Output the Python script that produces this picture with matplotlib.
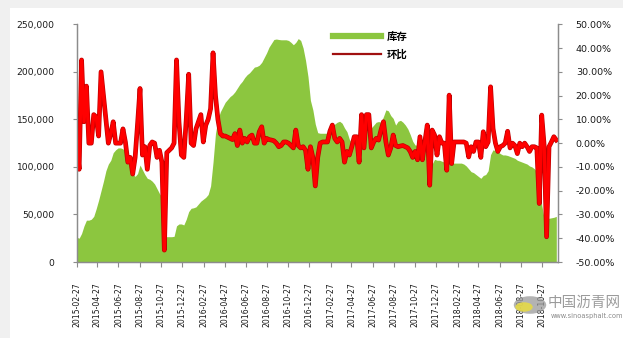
import matplotlib
matplotlib.use('Agg')
import matplotlib.pyplot as plt
import matplotlib.patheffects as pe
from matplotlib.lines import Line2D
from matplotlib.patches import Circle, Rectangle
from matplotlib.ticker import FuncFormatter
import pandas as pd

plt.rcParams['font.family'] = ['DejaVu Sans']

start_date = '2015-02-27'
n_weeks = 198

# weekly inventory (tonnes)
inventory = [
    26000, 25000, 30000, 38000, 44000, 44000, 45000, 48000, 56000, 65000,
    75000, 85000, 96000, 103000, 107000, 115000, 118000, 120000, 120000, 119000,
    115000, 109000, 103000, 93000, 90000, 93000, 102000, 97000, 92000, 88000,
    87000, 85000, 82000, 77000, 72000, 68000, 28000, 26600, 26600, 26600,
    27000, 38000, 40000, 40000, 39000, 45000, 53000, 56500, 57000, 58000,
    61000, 64000, 66000, 68000, 71000, 80000, 105000, 135000, 150000, 158000,
    163000, 168000, 171000, 174000, 176000, 179000, 183000, 187000, 190000, 194000,
    197000, 199000, 202000, 205000, 205600, 207000, 210000, 215000, 220000, 226000,
    230000, 234000, 234500, 234000, 233700, 233700, 233700, 233000, 231000, 228500,
    231000, 235000, 233000, 225000, 212000, 195000, 170000, 160000, 145000, 136000,
    135400, 135400, 135400, 135400, 139000, 144000, 145000, 147000, 148000, 146000,
    141000, 137000, 129000, 125000, 128000, 132000, 135000, 143000, 146000, 146000,
    144000, 141000, 144000, 147000, 147700, 147000, 153000, 160000, 159000, 154000,
    151000, 144000, 148000, 149000, 147000, 144000, 140000, 134000, 127000, 123000,
    123000, 122500, 121000, 117000, 112000, 106000, 103000, 108000, 107000, 107000,
    106000, 105000, 105000, 104000, 104000, 104000, 104000, 104000, 104000, 103000,
    101000, 98000, 95000, 94000, 92000, 90000, 88000, 91000, 92000, 96000,
    113000, 118000, 117000, 116000, 114000, 112600, 112600, 112000, 111000, 110000,
    109000, 107000, 106000, 105000, 104000, 103000, 101000, 100000, 98000, 95000,
    85000, 60000, 46000, 46000, 46000, 46500, 47000, 48000,
]

# week-on-week change (%)
change = [
    0.5, -11, 35, 9, 24, 0, 0, 12, 11, 3,
    30, 20, 10, 0, 4, 9, 0, 0, 0, 6,
    0.5, -8, -6, -13, -6, 8, 23, -5, -1.5, -11,
    -1, 0.5, 0, -6, -3, -8, -45, -4, -3, -2,
    0, 35, 9, -5, -6, 10, 29, 0, -1, 6,
    9, 12, 0.5, 7.5, 10, 14.5, 38, 20, 10, 4,
    3, 3, 2.5, 2, 1.5, 4, -1, 5.5, 0, 2,
    0.5, 2.7, 3.4, 0, 0, 4.8, 6.9, 0, 2, 1.5,
    1.3, 1, 0, -1.5, -1, 0.5, 0.5, 0, -1, -2,
    5.5, -1, -2, -1.5, -3, -11, -1.5, -6, -18, -6,
    0, 0.5, 0.5, 0.5, 5, 7.6, 2, 0.5, 2, 0.5,
    -8, -3.5, -5, -1.5, 2.7, 2.7, -8, 12, -2, 12,
    12, -2, 0.5, 2, 1.3, 5.5, 9, 0.5, -5, -2,
    3.4, -1, -1.5, -1.2, -1, -1.5, -2, -3.5, -6, -3.5,
    -7, 2.7, -7, 0.5, 7.6, -17.7, 5.5, 3.4, -5, 2.7,
    0, 0, -11.4, 20.2, -8.6, 0.5, 0.5, 0.5, 0.5, 0.5,
    0, -5.8, -1.5, -3.5, 0.5, 0.5, -6, 4.8, -1.5, 0.5,
    23.7, 6.2, 0, -3.5, -1.5, -1, 0, 5, -2, 0,
    -1, -4.4, 0, -1.5, 0, -1.5, -3.5, -1.5, -1.5, -2,
    -25.4, 11.8, -1, -39.4, -1.5, 0.5, 2.7, 1.3,
]

legend_labels = ['库存', '环比']
left_ticks = [0, 50000, 100000, 150000, 200000, 250000]
right_ticks = [-50, -40, -30, -20, -10, 0, 10, 20, 30, 40, 50]

dates = pd.date_range(start_date, periods=n_weeks, freq='7D')
tick_dates = pd.date_range(start_date, '2018-10-27', freq=pd.DateOffset(months=2))

green = '#8cc63f'
red = '#ff0000'
axis_grey = '#8c8c8c'

fig = plt.figure(figsize=(6.23, 3.38), dpi=100, facecolor='#f0f0f0')
fig.patches.append(Rectangle((10 / 623, 0), 1, 1 - 8 / 338, transform=fig.transFigure,
                             facecolor='white', edgecolor='none', zorder=-10))

ax = fig.add_axes([76.7 / 623, 1 - 262 / 338, 481 / 623, 237.7 / 338])
ax.patch.set_alpha(0)
ax.fill_between(dates, inventory, 0, color=green, linewidth=0)
ax.set_ylim(0, 250000)
ax.set_xlim(dates[0], dates[-1] + pd.Timedelta(days=4))
ax.set_yticks(left_ticks)
ax.yaxis.set_major_formatter(FuncFormatter(lambda v, p: f'{int(v):,}'))
ax.set_xticks(tick_dates)
ax.set_xticklabels([d.strftime('%Y-%m-%d') for d in tick_dates], rotation=90,
                   fontsize=5.6, color='#1a1a1a')
ax.tick_params(axis='y', labelsize=6.6, length=3, pad=13, color=axis_grey,
               labelcolor='#1a1a1a')
ax.tick_params(axis='x', length=3.5, pad=11, color=axis_grey)

ax2 = ax.twinx()
ax2.plot(dates, change, color=red, linewidth=2.4, solid_joinstyle='round',
         path_effects=[pe.Stroke(linewidth=3.4, foreground='#c00000'), pe.Normal()])
ax2.set_ylim(-50, 50)
ax2.set_yticks(right_ticks)
ax2.yaxis.set_major_formatter(FuncFormatter(lambda v, p: f'{v:.2f}%'))
ax2.tick_params(axis='y', labelsize=6.8, length=3, pad=10, color=axis_grey,
                labelcolor='#1a1a1a')

for a in (ax, ax2):
    a.spines['top'].set_visible(False)
    for s in ('left', 'right', 'bottom'):
        a.spines[s].set_color(axis_grey)
        a.spines[s].set_linewidth(0.9)

handles = [Line2D([], [], color=green, linewidth=4.5),
           Line2D([], [], color='#a01010', linewidth=1.6)]
fig.legend(handles, legend_labels, loc='upper left',
           bbox_to_anchor=(324 / 623, 1 - 22 / 338), frameon=False,
           handlelength=4.6, handletextpad=0.5, labelspacing=0.75,
           prop={'family': ['Noto Sans CJK SC', 'DejaVu Sans'], 'size': 7.5,
                 'weight': 'bold'})

# watermark
fig.patches.append(Circle((530 / 623, 1 - 305 / 338), 0.026, transform=fig.transFigure,
                          facecolor='#9a9a9a', edgecolor='none', alpha=0.75, zorder=5))
fig.patches.append(Circle((524 / 623, 1 - 307 / 338), 0.014, transform=fig.transFigure,
                          facecolor='#e8dc40', edgecolor='none', alpha=0.85, zorder=6))
fig.text(548 / 623, 1 - 303 / 338, '中国沥青网', fontsize=10.5, color='#8a8a8a', alpha=0.85,
         va='center', ha='left', family=['Noto Sans CJK SC', 'DejaVu Sans'], zorder=6)
fig.text(551 / 623, 1 - 316 / 338, 'www.sinoasphalt.com', fontsize=4.8, color='#8a8a8a',
         va='center', ha='left', zorder=6)

fig.savefig('out.png', dpi=100, facecolor=fig.get_facecolor())
